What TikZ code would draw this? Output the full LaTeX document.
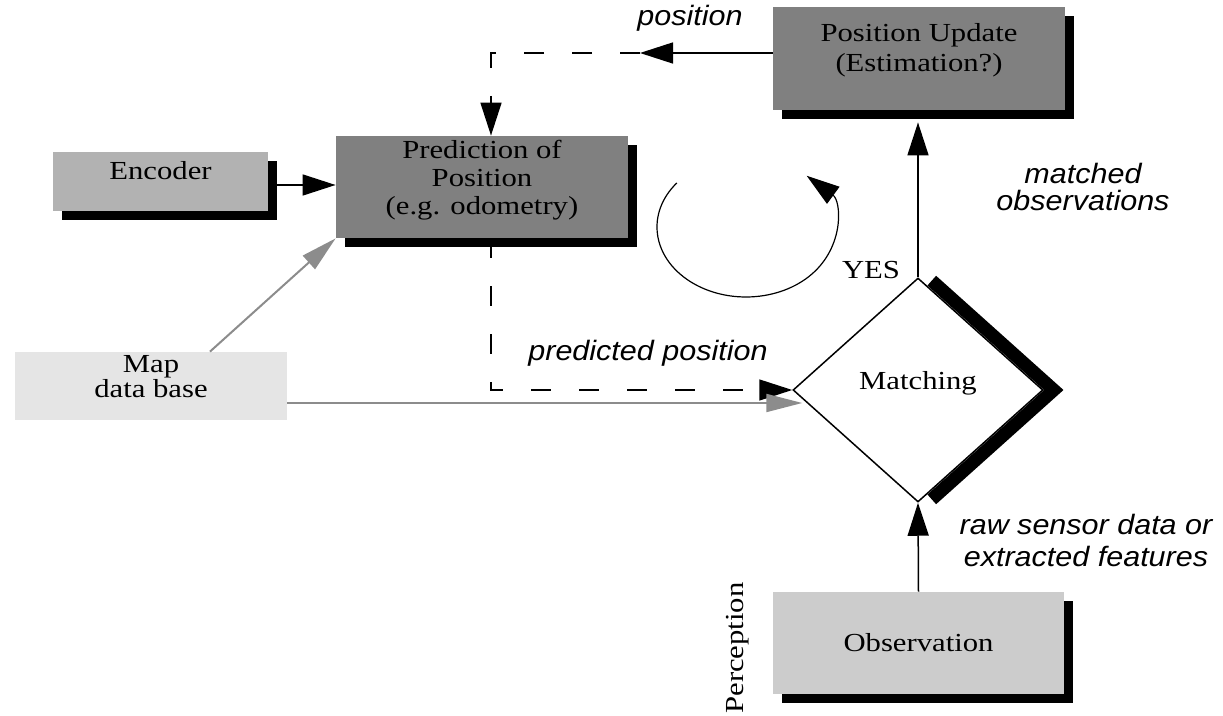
\documentclass[tikz,border=0pt]{standalone}
\usepackage{fontspec}
\setmainfont[FakeStretch=1.18]{Liberation Serif}
\newfontfamily\lblfont[FakeStretch=1.09]{Liberation Sans}
\usetikzlibrary{arrows.meta,shapes.geometric,shadows,calc}

\begin{document}
\begin{tikzpicture}[x=0.5pt,y=-0.5pt,
    flat/.style={rectangle,inner sep=0pt,align=center,font=\fontsize{13}{14}\selectfont},
    box/.style={flat,drop shadow={shadow xshift=4.5pt,shadow yshift=-4.75pt,fill=black,opacity=1}},
    lbl/.style={align=center,inner sep=0pt,font=\lblfont\itshape\fontsize{14}{13.5}\selectfont},
    arr/.style={line width=0.75pt,-{Triangle[length=16.5pt,width=10.5pt]}},
    dasharr/.style={arr,dash pattern=on 10pt off 14pt},
    grayarr/.style={line width=1pt,draw=black!45,-{Triangle[length=18pt,width=9pt]}}]
  \useasboundingbox (0,0) rectangle (1223,716);

  % boxes
  \node[box,fill=black!50,minimum width=146pt,minimum height=51.5pt,text depth=11.5pt,
        font=\fontsize{13}{15}\selectfont] (pu) at (919,58.5) {Position Update\\(Estimation?)};
  \node[box,fill=black!50,minimum width=146pt,minimum height=51pt,text depth=10pt] (pred) at (482,187)
       {Prediction of\\Position\\(e.g. odometry)};
  \node[box,fill=black!30,minimum width=107.5pt,minimum height=29.5pt,text depth=11.5pt] (enc) at (160.5,181.5) {Encoder};
  \node[flat,fill=black!10,minimum width=136pt,minimum height=34pt,text depth=9.5pt,
        font=\fontsize{13}{12.5}\selectfont] (map) at (151,386) {Map\\data base};
  \node[box,fill=black!20,minimum width=145.5pt,minimum height=51pt] (obs) at (918.5,643) {Observation};

  \node[diamond,draw,fill=white,line width=0.75pt,inner sep=0pt,minimum width=125pt,minimum height=112pt,
        font=\fontsize{13}{14}\selectfont,text depth=10pt] (m) at (918,390) {Matching};
  \draw[line width=6.5pt] ($(m.north)!0.03!(m.east)+(10,0)$) -- ([xshift=5pt]m.east)
       -- ($(m.south)!0.03!(m.east)+(10,0)$);

  % labels
  \node[lbl] (lpos) at (690,18) {position};
  \node[lbl] (lpred) at (648,353) {predicted position};
  \node[lbl] (lmatch) at (1083,186.5) {matched\\observations};
  \node[lbl,font=\lblfont\itshape\fontsize{14}{16}\selectfont] (lraw) at (1086,541) {raw sensor data or\\extracted features};
  \node[inner sep=0pt,font=\fontsize{13}{14}\selectfont] (yes) at (871,270) {YES};
  \node[inner sep=0pt,rotate=90,font=\fontsize{13}{14}\selectfont] (perc) at (738,648) {Perception};

  % connectors
  \coordinate (pos) at (640,53);
  \coordinate (turn) at (491,53);
  \coordinate (bend) at (491,390);
  \draw[arr] (pu.west |- pos) -- (pos);
  \draw[dasharr] (pos) -- (turn) -- (turn |- pred.north);
  \draw[dasharr] (turn |- pred.south) -- (bend) -- (m.west);
  \draw[arr] ([yshift=-1.75pt]enc.east) -- ([yshift=-1.75pt]enc.east -| pred.west);
  \draw[arr] (obs.north) -- (m.south);
  \draw[arr,shorten >=6pt] (m.north) -- (m.north |- pu.south);
  \draw[grayarr] ([xshift=29.5pt]map.north) -- (pred.south west);
  \draw[grayarr,shorten >=-5pt] ([yshift=-8.5pt]map.east) -- ([yshift=-8.5pt]map.east -| m.west);
  \draw[arr,line width=0.6pt] (746,227) ++(141:44.5pt and 35pt)
       arc[start angle=141,end angle=407,x radius=44.5pt,y radius=35pt];
\end{tikzpicture}
\end{document}
